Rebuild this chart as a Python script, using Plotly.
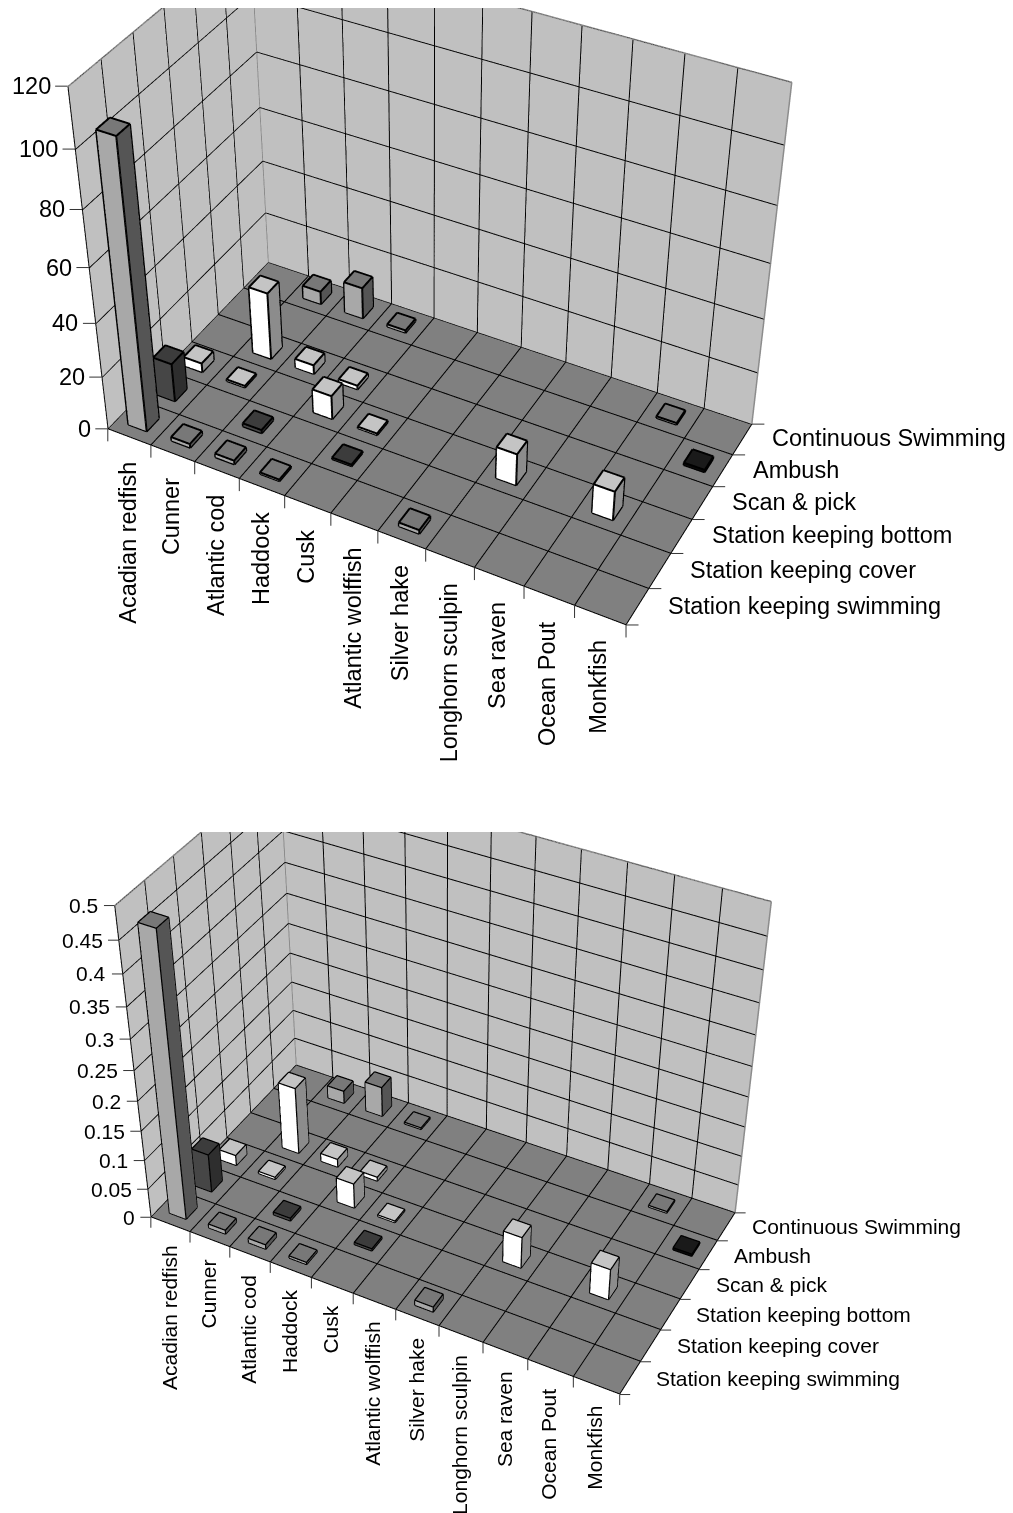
import numpy as np, json
import plotly.graph_objects as go

CATEGORIES = ["Acadian redfish","Cunner","Atlantic cod","Haddock","Cusk","Atlantic wolffish","Silver hake","Longhorn sculpin","Sea raven","Ocean Pout","Monkfish"]
SERIES = ["Station keeping swimming","Station keeping cover","Station keeping bottom","Scan & pick","Ambush","Continuous Swimming"]

TOP_SWIMMING   = [105,1.5,1.5,0.7,0,0,1.5,0,0,0,0]
TOP_COVER      = [14.5,0,1.3,0,0.7,0,0,0,0,0,0]
TOP_BOTTOM     = [3.5,0.7,0,9,0.7,0,0,12,0,11,0]
TOP_SCAN       = [0,25.5,3.5,1.5,0,0,0,0,0,0,0]
TOP_AMBUSH     = [0,0,0,0,0,0,0,0,0,0,1]
TOP_CONTINUOUS = [0,5,12,1,0,0,0,0,0,0.7,0]
TOP_TICKS = [0,20,40,60,80,100,120]
TOP_TICKTEXT = ["0","20","40","60","80","100","120"]

BOT_SWIMMING   = [0.47,0.007,0.008,0.004,0,0,0.009,0,0,0,0]
BOT_COVER      = [0.066,0,0.005,0,0.004,0,0,0,0,0,0]
BOT_BOTTOM     = [0.018,0.004,0,0.043,0.003,0,0,0.054,0,0.053,0]
BOT_SCAN       = [0,0.115,0.014,0.007,0,0,0,0,0,0,0]
BOT_AMBUSH     = [0,0,0,0,0,0,0,0,0,0,0.004]
BOT_CONTINUOUS = [0,0.022,0.052,0.003,0,0,0,0,0,0.003,0]
BOT_TICKS = [0,0.05,0.1,0.15,0.2,0.25,0.3,0.35,0.4,0.45,0.5]
BOT_TICKTEXT = ["0","0.05","0.1","0.15","0.2","0.25","0.3","0.35","0.4","0.45","0.5"]

PALETTE = [("#a8a8a8","#555555","#787878"),("#464646","#2e2e2e","#3c3c3c"),("#ffffff","#8c8c8c","#c4c4c4"),
           ("#ffffff","#8c8c8c","#c4c4c4"),("#0a0a0a","#050505","#1a1a1a"),("#a8a8a8","#555555","#787878")]

W,H=1013,1513
TOP_VIS=(9,800); BOT_VIS=(832,1513)
TOP_CX=430; BOT_CX=443
# camera: eye, centre, aspect ratio, focal length in px, viewport centre y on the page
TOP_CAM=[2.874,-5.410,4.740,-0.001,0.0,0.0,2.061,1.126,1.495,2253.859,265.184]
BOT_CAM=[2.898,-5.449,4.813,0.040,-0.078,-0.106,2.013,1.102,1.469,2113.968,1105.559]

def ranges(zmax):
    return [(-0.01,11.01),(-0.01,6.01),(-zmax*0.004,zmax*1.004)]

def cube(c,r,v,hw=0.21):
    x0,x1=c+.5-hw,c+.5+hw;y0,y1=r+.5-hw,r+.5+hw
    return x0,x1,y0,y1,0,v

def add_scene(fig,sid,series,zticks,zlabels,zmax,fontsize,edge,p,lab_dx,lab_dy,ser_dx,ser_dy,tl,val_dx):
    xs,ys,zs,ii,jj,kk,fc=[],[],[],[],[],[],[]
    def quad(a,b,c,d,col):
        n=len(xs)
        for q in (a,b,c,d):
            xs.append(q[0]);ys.append(q[1]);zs.append(q[2])
        ii.extend([n,n]);jj.extend([n+1,n+2]);kk.extend([n+2,n+3]);fc.extend([col,col])
    quad((0,0,0),(11,0,0),(11,6,0),(0,6,0),"#808080")
    quad((0,0,0),(0,6,0),(0,6,zmax),(0,0,zmax),"#c0c0c0")
    quad((0,6,0),(11,6,0),(11,6,zmax),(0,6,zmax),"#c0c0c0")
    bx,by,bz=[],[],[]
    def seg(L,a,b):
        L[0].extend([a[0],b[0],None]);L[1].extend([a[1],b[1],None]);L[2].extend([a[2],b[2],None])
    B=(bx,by,bz)
    ez=zmax*0.0015
    for ri,vals in enumerate(series):
        fr,si,to=PALETTE[ri]
        for ci,v in enumerate(vals):
            if v<=0: continue
            x0,x1,y0,y1,z0,z1=cube(ci,ri,v)
            quad((x0,y0,z0),(x1,y0,z0),(x1,y0,z1),(x0,y0,z1),fr)
            quad((x1,y0,z0),(x1,y1,z0),(x1,y1,z1),(x1,y0,z1),si)
            quad((x0,y0,z1),(x1,y0,z1),(x1,y1,z1),(x0,y1,z1),to)
            quad((x0,y0,z0),(x0,y1,z0),(x0,y1,z1),(x0,y0,z1),si)
            quad((x0,y1,z0),(x1,y1,z0),(x1,y1,z1),(x0,y1,z1),fr)
            e=0.004
            X0,X1,Y0,Y1,Z0,Z1=x0-e,x1+e,y0-e,y1+e,z0+ez,z1+ez
            for a,b in [((X0,Y0,Z0),(X1,Y0,Z0)),((X1,Y0,Z0),(X1,Y1,Z0)),((X0,Y0,Z1),(X1,Y0,Z1)),((X1,Y0,Z1),(X1,Y1,Z1)),((X1,Y1,Z1),(X0,Y1,Z1)),((X0,Y1,Z1),(X0,Y0,Z1)),((X0,Y0,Z0),(X0,Y0,Z1)),((X1,Y0,Z0),(X1,Y0,Z1)),((X1,Y1,Z0),(X1,Y1,Z1))]:
                seg(B,a,b)
    fig.add_trace(go.Mesh3d(x=xs,y=ys,z=zs,i=ii,j=jj,k=kk,facecolor=fc,flatshading=True,hoverinfo='skip',showscale=False,
        lighting=dict(ambient=1,diffuse=0,specular=0,roughness=1,fresnel=0),scene=sid))
    gx,gy,gz=[],[],[];G=(gx,gy,gz)
    o=0.006
    for c in range(0,12):
        seg(G,(c,0,ez),(c,6,ez))
    for r in range(0,7):
        seg(G,(0,r,ez),(11,r,ez))
    for t in zticks:
        seg(G,(o,0,t),(o,6,t))
        seg(G,(0,6-o,t),(11,6-o,t))
    for r in range(0,6):
        seg(G,(o,r,0),(o,r,zmax))
    for c in range(1,11):
        seg(G,(c,6-o,0),(c,6-o,zmax))
    fig.add_trace(go.Scatter3d(x=gx,y=gy,z=gz,mode='lines',line=dict(color='#000000',width=2),hoverinfo='skip',showlegend=False,scene=sid))
    wx,wy,wz=[],[],[];Wl=(wx,wy,wz)
    seg(Wl,(o,0,zmax),(o,6,zmax));seg(Wl,(0,6-o,zmax),(11,6-o,zmax))
    seg(Wl,(o,6-o,0),(o,6-o,zmax));seg(Wl,(11,6-o,0),(11,6-o,zmax))
    fig.add_trace(go.Scatter3d(x=wx,y=wy,z=wz,mode='lines',line=dict(color='#8c8c8c',width=3),hoverinfo='skip',showlegend=False,scene=sid))
    fig.add_trace(go.Scatter3d(x=bx,y=by,z=bz,mode='lines',line=dict(color='#000000',width=edge),hoverinfo='skip',showlegend=False,scene=sid))
    anns=[]
    font=dict(family="Liberation Sans",size=fontsize,color="#000000")
    for t,lab in zip(zticks,zlabels):
        anns.append(dict(x=0,y=0,z=t,text=lab,showarrow=False,xanchor='right',yanchor='middle',xshift=val_dx,font=font))
        anns.append(dict(x=0,y=0,z=t,text='',showarrow=True,arrowhead=0,arrowwidth=1,arrowcolor='#333333',ax=-tl,ay=0,standoff=0))
    for c,lab in enumerate(CATEGORIES):
        anns.append(dict(x=c+.5,y=0,z=0,text=lab,textangle=-90,showarrow=False,xanchor='center',yanchor='top',xshift=lab_dx,yshift=lab_dy,font=font))
    for c in range(12):
        anns.append(dict(x=c,y=0,z=0,text='',showarrow=True,arrowhead=0,arrowwidth=1,arrowcolor='#333333',ax=0,ay=tl,standoff=0))
    for r,lab in enumerate(SERIES):
        anns.append(dict(x=11,y=r+.5,z=0,text=lab,showarrow=False,xanchor='left',yanchor='middle',xshift=ser_dx,yshift=ser_dy,font=font))
    for r in range(7):
        anns.append(dict(x=11,y=r,z=0,text='',showarrow=True,arrowhead=0,arrowwidth=1,arrowcolor='#333333',ax=tl,ay=0,standoff=0))
    rg=ranges(zmax)
    ax=dict(visible=False,showspikes=False,showgrid=False,zeroline=False,showbackground=False)
    return dict(xaxis=dict(range=rg[0],**ax),yaxis=dict(range=rg[1],**ax),zaxis=dict(range=rg[2],**ax),
        aspectmode='manual',aspectratio=dict(x=p[6],y=p[7],z=p[8]),
        camera=dict(eye=dict(x=p[0],y=p[1],z=p[2]),center=dict(x=p[3],y=p[4],z=p[5]),up=dict(x=0,y=0,z=1),projection=dict(type='perspective')),
        annotations=anns,hovermode=False,dragmode=False,bgcolor='rgba(0,0,0,0)')

p1,p2=TOP_CAM,BOT_CAM
k=2*np.tan(np.pi/8)
h1,h2=p1[9]*k,p2[9]*k
tp1=p1[10]-h1/2; tp2=p2[10]-h2/2
S=int(np.ceil(max(0,-tp1,-tp2)))+1
HF=int(np.ceil(max(H,p1[10]+h1/2,p2[10]+h2/2)))+S+1
def dom(cx,cy,h):
    return dict(x=[0,2*cx/W],y=[1-(cy+h/2+S)/HF,1-(cy-h/2+S)/HF])

fig=go.Figure()
s1=add_scene(fig,'scene',[TOP_SWIMMING,TOP_COVER,TOP_BOTTOM,TOP_SCAN,TOP_AMBUSH,TOP_CONTINUOUS],TOP_TICKS,TOP_TICKTEXT,120,23.5,4,p1,-1.5,-23,28,1,14,-15)
s2=add_scene(fig,'scene2',[BOT_SWIMMING,BOT_COVER,BOT_BOTTOM,BOT_SCAN,BOT_AMBUSH,BOT_CONTINUOUS],BOT_TICKS,BOT_TICKTEXT,0.5,21,2.5,p2,-1.5,-18,24,0,12,-14)
s1['domain']=dom(TOP_CX,p1[10],h1);s2['domain']=dom(BOT_CX,p2[10],h2)
fig.update_layout(width=W,height=HF,margin=dict(l=0,r=0,t=0,b=0),paper_bgcolor='white',showlegend=False,scene=s1,scene2=s2)
css=("#scene{clip-path:inset(%.1fpx 0 %.1fpx 0);}#scene2{clip-path:inset(%.1fpx 0 %.1fpx 0);}"
     %(TOP_VIS[0]-tp1,p1[10]+h1/2-TOP_VIS[1],BOT_VIS[0]-tp2,max(0,p2[10]+h2/2-BOT_VIS[1])))
post=("var s=document.createElement('style');s.textContent=%s;document.head.appendChild(s);"
      "document.body.style.margin='0';document.body.style.marginTop='%dpx';document.documentElement.style.overflow='hidden';"%(json.dumps(css),-S))
fig.write_html("out.html",post_script=post,config=dict(displayModeBar=False))
